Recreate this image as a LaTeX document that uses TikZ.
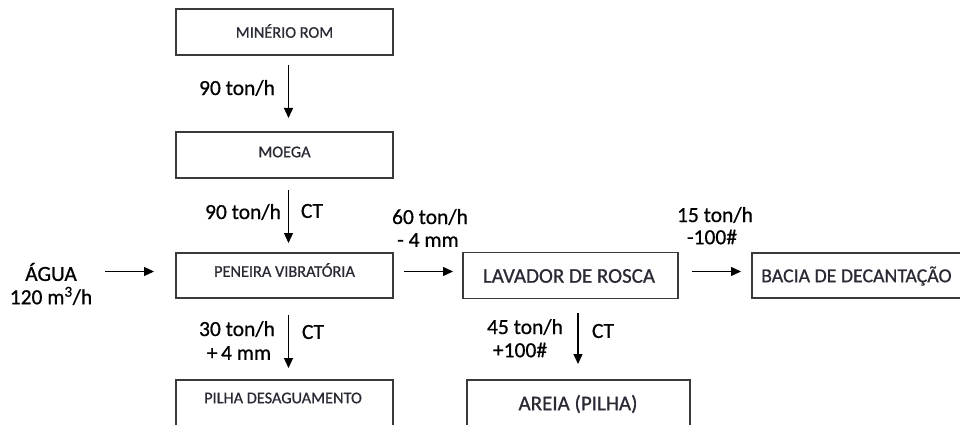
\documentclass[tikz,border=0pt]{standalone}
\usepackage{fontspec}
\setmainfont{Carlito}
\newfontfamily\heavyfont[FakeBold=0.7]{Carlito}
\usetikzlibrary{arrows.meta}
\definecolor{boxline}{HTML}{3A3A3A}
\definecolor{boxtext}{HTML}{2A2A35}
\tikzset{
  flowbox/.style={draw=boxline, line width=1.6pt, rectangle, inner sep=0pt},
  smalltxt/.style={font=\heavyfont\fontsize{16.3}{18}\selectfont, text=boxtext, inner sep=0pt},
  bigtxt/.style={font=\heavyfont\fontsize{21}{24}\selectfont, text=boxtext, inner sep=0pt},
  lbl/.style={font=\heavyfont\fontsize{21.5}{24}\selectfont, inner sep=0pt, align=center},
  flow/.style={line width=1.3pt, -{Triangle[length=10pt,width=9pt]}}
}
\begin{document}
\begin{tikzpicture}[x=1pt,y=-1pt]
\clip (0,0) rectangle (960,425);
\fill[white] (0,0) rectangle (960,425);
% boxes
\node[flowbox, minimum width=217pt, minimum height=46pt] (rom) at (284.5,32) {};
\node[smalltxt] (romt) at (284.5,31) {MINÉRIO ROM};
\node[flowbox, minimum width=217pt, minimum height=46pt] (moega) at (284.5,155) {};
\node[smalltxt] (moegat) at (284.5,152) {MOEGA};
\node[flowbox, minimum width=217pt, minimum height=45pt] (pen) at (284.5,275.5) {};
\node[smalltxt] (pent) at (284.5,270) {PENEIRA VIBRATÓRIA};
\node[flowbox, minimum width=215pt, minimum height=46pt] (lav) at (570.5,275.5) {};
\node[bigtxt] (lavt) at (569,276) {LAVADOR DE ROSCA};
\node[flowbox, minimum width=240pt, minimum height=45pt] (bac) at (872,275.5) {};
\node[bigtxt, font=\heavyfont\fontsize{19.8}{22}\selectfont, anchor=west] (bact) at (761,276) {BACIA DE DECANTAÇÃO};
\node[flowbox, minimum width=217pt, minimum height=60pt] (pil) at (284.5,410) {};
\node[smalltxt] (pilt) at (283,398) {PILHA DESAGUAMENTO};
\node[flowbox, minimum width=223pt, minimum height=60pt] (are) at (578.5,410) {};
\node[bigtxt] (aret) at (578,404) {AREIA (PILHA)};
% arrow coordinates
\coordinate (a1s) at (288.5,65);  \coordinate (a1e) at (288.5,118);
\coordinate (a2s) at (288.5,190); \coordinate (a2e) at (288.5,243);
\coordinate (a3s) at (288.5,315); \coordinate (a3e) at (288.5,368);
\coordinate (a4s) at (578,313);   \coordinate (a4e) at (578,364);
\coordinate (h1s) at (105,271.5); \coordinate (h1e) at (154,271.5);
\coordinate (h2s) at (404,271.5); \coordinate (h2e) at (453,271.5);
\coordinate (h3s) at (692,271.5); \coordinate (h3e) at (741,271.5);
\draw[flow] (a1s) -- (a1e);
\draw[flow] (a2s) -- (a2e);
\draw[flow] (a3s) -- (a3e);
\draw[flow] (a4s) -- (a4e);
\draw[flow] (h1s) -- (h1e);
\draw[flow] (h2s) -- (h2e);
\draw[flow] (h3s) -- (h3e);
% labels
\node[lbl] (l1) at (237,88) {90 ton/h};
\node[lbl] (l2) at (243,212) {90 ton/h};
\node[lbl] (c2) at (312,211) {CT};
\node[lbl] (l3a) at (237,329) {30 ton/h};
\node[lbl] (l3b) at (239,353) {+\,4 mm};
\node[lbl] (c3) at (313,332) {CT};
\node[lbl] (l4a) at (525,327) {45 ton/h};
\node[lbl] (l4b) at (520,350) {+100\#};
\node[lbl] (c4) at (603,331) {CT};
\node[lbl] (w1) at (51,272) {ÁGUA};
\node[lbl] (w2) at (51,296) {120 m\textsuperscript{3}/h};
\node[lbl] (l5a) at (430,217) {60 ton/h};
\node[lbl] (l5b) at (428,240) {- 4 mm};
\node[lbl] (l6a) at (715,215) {15 ton/h};
\node[lbl] (l6b) at (712,237) {-100\#};
\end{tikzpicture}
\end{document}
